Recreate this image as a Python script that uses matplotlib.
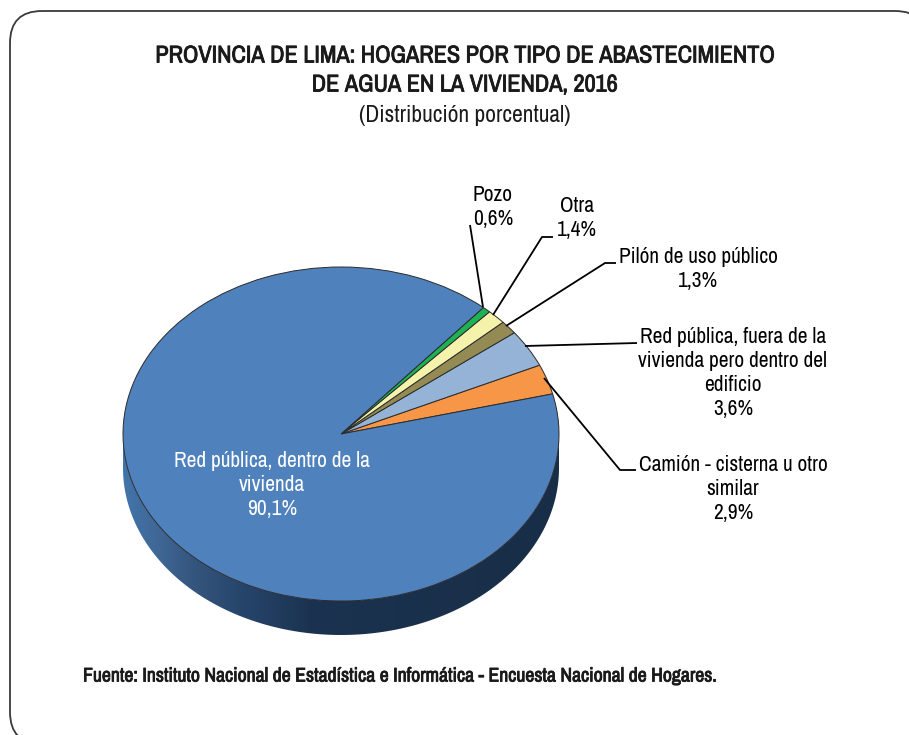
import numpy as np
import matplotlib
matplotlib.use("Agg")
import matplotlib.pyplot as plt
import matplotlib.patheffects as pe
from matplotlib.colors import LinearSegmentedColormap
from matplotlib.patches import FancyBboxPatch, PathPatch
from matplotlib.path import Path

# ---- data -------------------------------------------------------------
categories = ["Camión - cisterna u otro\nsimilar",
              "Red pública, fuera de la\nvivienda pero dentro del\nedificio",
              "Pilón de uso público",
              "Otra",
              "Pozo",
              "Red pública, dentro de la\nvivienda"]
values = [2.9, 3.6, 1.3, 1.4, 0.6, 90.1]
colors = ["#f79646", "#95b3d7", "#948a54", "#f5f3ab", "#1fb254", "#4f81bd"]
title_lines = ["PROVINCIA DE LIMA: HOGARES POR TIPO DE ABASTECIMIENTO",
               "DE AGUA EN LA VIVIENDA, 2016"]
subtitle = "(Distribución porcentual)"
source = "Fuente: Instituto Nacional de Estadística e Informática - Encuesta Nacional de Hogares."

W, H = 909, 735
plt.rcParams["font.family"] = ["Archivo Narrow", "Liberation Sans", "DejaVu Sans"]

fig = plt.figure(figsize=(W / 100, H / 100), dpi=100, facecolor="white")

def px_axes(z):
    a = fig.add_axes([0, 0, 1, 1], zorder=z)
    a.set_xlim(0, W); a.set_ylim(H, 0); a.axis("off")
    a.patch.set_alpha(0)
    return a

back = px_axes(0)
front = px_axes(2)

# rounded frame (runs past the right and bottom edges)
back.add_patch(FancyBboxPatch((10 + 32, 11 + 32), 917 - 64, 733 - 64,
                              boxstyle="round,pad=32,rounding_size=32",
                              fc="white", ec="#3a3a3a", lw=1.3, zorder=1))

# pie geometry, in pixels
cx, cy, rx, ry, depth = 341, 434, 218, 167, 34

# side wall of the pie
t = np.linspace(np.pi, 0, 200)
upper = np.c_[cx + rx * np.cos(t), cy + ry * np.sin(t)]
lower = np.c_[cx + rx * np.cos(t[::-1]), cy + depth + ry * np.sin(t[::-1])]
verts = np.vstack([upper, lower, upper[:1]])
side_path = Path(verts, closed=True)
cmap = LinearSegmentedColormap.from_list(
    "side", [(0, "#4274ab"), (0.08, "#3f6795"), (0.16, "#34557d"),
             (0.28, "#26446a"), (0.43, "#1b3350"), (1, "#182d47")])
grad = np.linspace(0, 1, 436).reshape(1, -1)
im = back.imshow(grad, cmap=cmap, extent=(cx - rx, cx + rx, cy + ry + depth + 2, cy - 2),
                 aspect="auto", zorder=2)
im.set_clip_path(PathPatch(side_path, transform=back.transData))
back.set_xlim(0, W); back.set_ylim(H, 0)

# pie top
ax = fig.add_axes([(cx - rx) / W, 1 - (cy + ry) / H, 2 * rx / W, 2 * ry / H], zorder=1)
ax.patch.set_alpha(0)
ax.pie(values, colors=colors, startangle=13.9, counterclock=True,
       wedgeprops=dict(edgecolor="#2b2b2b", linewidth=0.7))
ax.set_aspect("auto")
ax.set_xlim(-1, 1); ax.set_ylim(-1, 1)

# leader lines
leaders = [[(470, 225), (483, 307)],
           [(553, 237), (542, 237), (493, 315)],
           [(616, 263), (605, 263), (506, 326)],
           [(637, 343), (525, 346)],
           [(636, 470), (620, 470), (544, 378)]]
for pts in leaders:
    xs, ys = zip(*pts)
    front.plot(xs, ys, color="black", lw=1.3, solid_capstyle="butt")

def pct(v):
    return f"{v:.1f}%".replace(".", ",")

fs = 15.4
ls = 1.25
label_pos = {0: (733, 489), 1: (733, 372.5), 2: (698, 268.5), 3: (577, 217.5), 4: (493, 206.5), 5: (272, 485)}
for i, (x, y) in label_pos.items():
    front.text(x, y, f"{categories[i]}\n{pct(values[i])}", ha="center", va="center",
               fontsize=fs, linespacing=ls, color="white" if i == 5 else "black")

bold = [pe.withStroke(linewidth=0.6, foreground="#1a1a1a")]
front.text(465, 56, title_lines[0], ha="center", va="center", fontsize=17.45, color="#1a1a1a", path_effects=bold)
front.text(465, 85, title_lines[1], ha="center", va="center", fontsize=17.45, color="#1a1a1a", path_effects=bold)
front.text(465, 115, subtitle, ha="center", va="center", fontsize=16.9, color="#1a1a1a")
front.text(83, 676, source, ha="left", va="center", fontsize=14.2, color="#1a1a1a", path_effects=bold)

fig.savefig("out.png", dpi=100)
